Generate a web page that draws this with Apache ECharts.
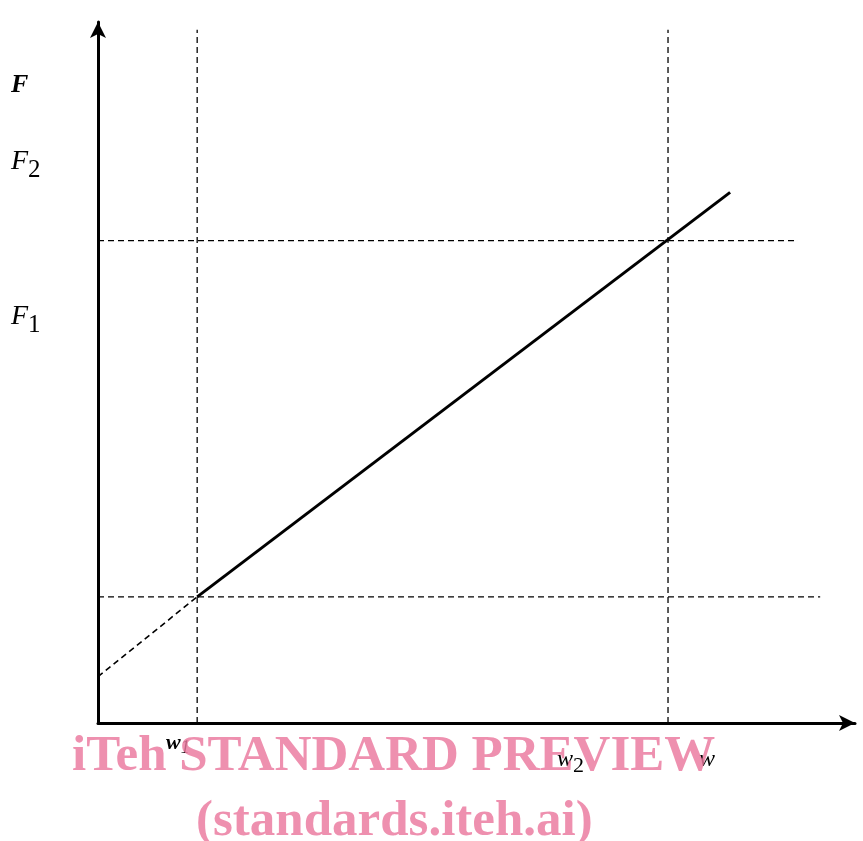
<!DOCTYPE html>
<html>
<head>
<meta charset="utf-8">
<script src="https://cdn.jsdelivr.net/npm/echarts@6/dist/echarts.min.js"></script>
<style>
  html, body { margin: 0; padding: 0; background: #fff; }
  #chart { width: 863px; height: 841px; }
</style>
</head>
<body>
<div id="chart"></div>
<script>
// key points, in chart units (w: 0..100, F: 0..100)
const wPoints = [13.1, 75.3];          // w1, w2
const fLevels = [18.0, 68.8];          // F1-level, F2-level crossings
const lineEnd = [83.5, 75.7];          // end of the solid line
const extStart = [0, 6.6];             // where the dashed extension meets the F axis
const vDashTop = 98.9;                 // top of the vertical guides
const hDashEnds = [95.4, 92.1];        // right ends of the horizontal guides

const dashStyle = { color: "#000", width: 1.3, type: [6, 4] };
const pink = "rgba(234,120,158,0.82)";

const chart = echarts.init(document.getElementById("chart"));

const guideSeries = [
  // vertical guides at w1 and w2
  ...wPoints.map((w) => ({
    type: "line", silent: true, symbol: "none",
    data: [[w, 0], [w, vDashTop]],
    lineStyle: dashStyle,
  })),
  // horizontal guides
  ...fLevels.map((f, i) => ({
    type: "line", silent: true, symbol: "none",
    data: [[0, f], [hDashEnds[i], f]],
    lineStyle: dashStyle,
  })),
];

const subLabel = (main, sub, mainFont, subFont, drop) => ({
  text: `{f|${main}}{s|${sub}}`, fill: "#000",
  rich: {
    f: { font: mainFont, fill: "#000" },
    s: { font: subFont, fill: "#000", padding: [drop, 0, 0, 0] },
  },
});

chart.setOption({
  animation: false,
  grid: { left: 98, right: 8, top: 22, bottom: 118 },
  xAxis: {
    type: "value", min: 0, max: 100,
    axisLine: { show: true, lineStyle: { color: "#000", width: 3 }, symbol: ["none", "arrow"], symbolSize: [12, 16] },
    axisTick: { show: false }, axisLabel: { show: false }, splitLine: { show: false },
  },
  yAxis: {
    type: "value", min: 0, max: 100,
    axisLine: { show: true, onZero: false, lineStyle: { color: "#000", width: 3 }, symbol: ["none", "arrow"], symbolSize: [12, 16] },
    axisTick: { show: false }, axisLabel: { show: false }, splitLine: { show: false },
  },
  series: [
    ...guideSeries,
    {
      // dashed extension back to the F axis
      type: "line", silent: true, symbol: "none",
      data: [extStart, [wPoints[0], fLevels[0]]],
      lineStyle: { color: "#000", width: 1.6, type: [6, 4] },
    },
    {
      type: "line", silent: true, symbol: "none",
      data: [[wPoints[0], fLevels[0]], lineEnd],
      lineStyle: { color: "#000", width: 3 },
    },
  ],
  graphic: [
    { type: "text", left: 11, top: 72, style: { text: "F", font: "bold italic 26px 'Liberation Serif'", fill: "#000" } },
    { type: "text", left: 11, top: 148, style: subLabel("F", "2", "italic 28px 'Liberation Serif'", "25px 'Liberation Serif'", 16) },
    { type: "text", left: 11, top: 303, style: subLabel("F", "1", "italic 28px 'Liberation Serif'", "25px 'Liberation Serif'", 16) },
    { type: "text", left: 166, top: 732, style: subLabel("w", "1", "bold italic 22px 'Liberation Serif'", "italic 18px 'Liberation Serif'", 10) },
    { type: "text", left: 557, top: 748, style: subLabel("w", "2", "italic 24px 'Liberation Serif'", "22px 'Liberation Serif'", 12) },
    { type: "text", left: 699, top: 748, style: { text: "w", font: "italic 24px 'Liberation Serif'", fill: "#000" } },
    // watermark
    {
      type: "text", left: 72, top: 731, z: 100,
      style: { text: "iTeh STANDARD PREVIEW", font: "bold 51px 'Liberation Serif'", fill: pink },
    },
    {
      type: "text", left: 196, top: 796, z: 100,
      style: { text: "(standards.iteh.ai)", font: "bold 51px 'Liberation Serif'", fill: pink },
    },
  ],
});
</script>
</body>
</html>
